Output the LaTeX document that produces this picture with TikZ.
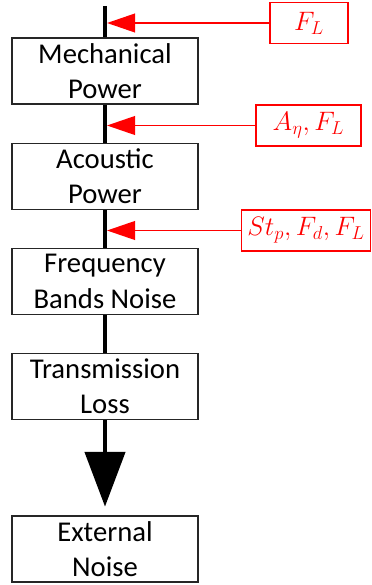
\RequirePackage{fix-cm}
\documentclass[tikz,border=0pt]{standalone}
\usepackage{fontspec}
\setmainfont{Carlito}
\usepackage{xcolor}
\usepackage{tikz}
\usetikzlibrary{positioning,arrows.meta}

\begin{document}
\begin{tikzpicture}[x=0.75pt, y=-0.75pt,
    stage/.style={draw=black!85, line width=1.1pt, minimum width=139.5pt, minimum height=49.5pt,
                  align=center, inner sep=0pt, font=\fontsize{21.5}{26.5}\selectfont},
    param/.style={draw=red, line width=1.1pt, text=red, minimum height=30.5pt, inner sep=0pt,
                  font=\fontsize{20}{22}\selectfont},
    feed/.style={red, line width=1.4pt, -{Triangle[width=14pt, length=21pt]}, shorten >=1.5pt},
    spine/.style={line width=3.2pt}]
  \useasboundingbox (0,0) rectangle (371,585);
  \node[stage] (mech) at (105,71)    {Mechanical\\Power};
  \node[stage] (acou) at (105,176.5) {Acoustic\\Power};
  \node[stage] (band) at (105,281.5) {Frequency\\Bands Noise};
  \node[stage] (tran) at (105,386.5) {Transmission\\Loss};
  \node[stage] (extn) at (105,549)   {External\\Noise};
  \coordinate (top) at (mech.north |- 0,6);
  \draw[spine] (top) -- (mech.north);
  \draw[spine] (mech.south) -- (acou.north);
  \draw[spine] (acou.south) -- (band.north);
  \draw[spine] (band.south) -- (tran.north);
  \draw[spine, -{Triangle[width=30pt, length=41pt]}, shorten >=6.5pt] (tran.south) -- (extn.north);
  \node[param, minimum width=58.5pt] (pA) at (309,23)    {$F_L$};
  \node[param, minimum width=79pt]   (pB) at (308.5,125.5) {$A_\eta, F_L$};
  \node[param, minimum width=97pt]   (pC) at (306,230.5) {$St_p, F_d, F_L$};
  \draw[feed] (pA.west) -- (pA.west -| mech.north);
  \draw[feed] (pB.west) -- (pB.west -| mech.north);
  \draw[feed] (pC.west) -- (pC.west -| mech.north);
\end{tikzpicture}
\end{document}
